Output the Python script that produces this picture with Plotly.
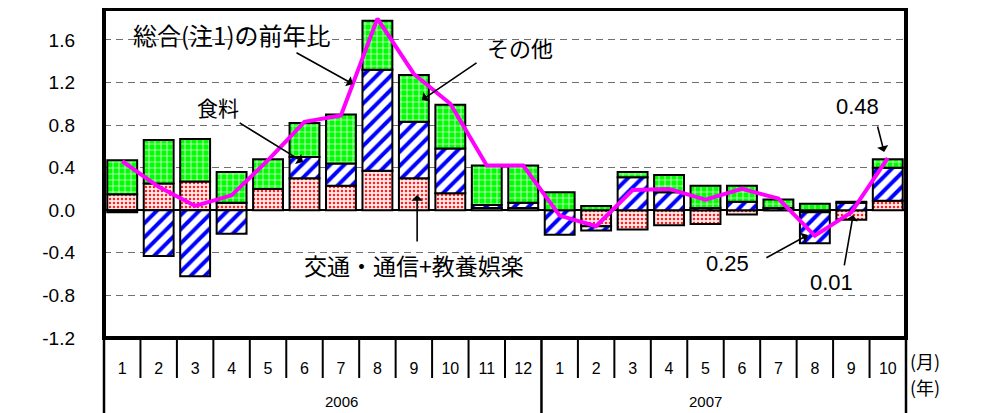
import plotly.graph_objects as go

months = ["1", "2", "3", "4", "5", "6", "7", "8", "9", "10", "11", "12",
          "1", "2", "3", "4", "5", "6", "7", "8", "9", "10"]
years = ["2006", "2007"]
year_counts = [12, 10]

# 交通・通信+教養娯楽
transport = [0.15, 0.25, 0.27, 0.07, 0.20, 0.30, 0.23, 0.37, 0.30, 0.16, 0.02, 0.02,
             0.00, -0.15, -0.18, -0.14, -0.13, -0.04, 0.00, -0.02, -0.09, 0.09]
# 食料
food = [-0.02, -0.43, -0.62, -0.22, 0.00, 0.20, 0.21, 0.95, 0.53, 0.42, 0.03, 0.05,
        -0.23, -0.04, 0.31, 0.17, 0.02, 0.08, 0.02, -0.29, 0.07, 0.31]
# その他
other = [0.32, 0.41, 0.40, 0.29, 0.28, 0.32, 0.46, 0.46, 0.44, 0.41, 0.37, 0.35,
         0.17, 0.04, 0.05, 0.16, 0.21, 0.15, 0.08, 0.06, 0.01, 0.08]
# 総合 前年比
total = [0.46, 0.22, 0.04, 0.14, 0.47, 0.83, 0.89, 1.80, 1.28, 1.00, 0.42, 0.42,
         -0.05, -0.15, 0.19, 0.20, 0.10, 0.20, 0.11, -0.24, -0.02, 0.49]

ytick_vals = [-1.2, -0.8, -0.4, 0.0, 0.4, 0.8, 1.2, 1.6]
ytick_text = ["-1.2", "-0.8", "-0.4", "0.0", "0.4", "0.8", "1.2", "1.6"]

NUM = "Liberation Sans, Arial, sans-serif"
JP = "Noto Sans CJK JP, sans-serif"

x = list(range(len(months)))
fig = go.Figure()
fig.add_trace(go.Bar(x=x, y=transport, name="交通・通信+教養娯楽",
                     marker=dict(color="white", line=dict(color="black", width=2),
                                 pattern=dict(shape=".", fgcolor="#ff2020", bgcolor="#ffeaea",
                                              size=4, solidity=0.3, fillmode="replace"))))
fig.add_trace(go.Bar(x=x, y=food, name="食料",
                     marker=dict(color="white", line=dict(color="black", width=2),
                                 pattern=dict(shape="/", fgcolor="#0000ff", bgcolor="white",
                                              size=10, solidity=0.4, fillmode="replace"))))
fig.add_trace(go.Bar(x=x, y=other, name="その他",
                     marker=dict(color="#00ff00", line=dict(color="black", width=2),
                                 pattern=dict(shape="+", fgcolor="white", bgcolor="#00ff00",
                                              size=6, solidity=0.22, fillmode="replace"))))
fig.add_trace(go.Scatter(x=x, y=total, mode="lines", name="総合",
                         line=dict(color="#ff00ff", width=4)))

n = len(months)
shapes = []
# frame
shapes.append(dict(type="rect", xref="paper", yref="paper", x0=0, x1=1, y0=0, y1=1,
                   line=dict(color="black", width=4), layer="above"))
# category table dividers
bounds = [0]
for c in year_counts:
    bounds.append(bounds[-1] + c)
for i in range(n + 1):
    full = i in bounds
    shapes.append(dict(type="line", xref="paper", yref="paper",
                       x0=i / n, x1=i / n, y0=-0.006, y1=(-0.24 if full else -0.1216),
                       line=dict(color="black", width=2.5 if full else 2)))

annotations = []
# year labels
for k, yr in enumerate(years):
    center = (bounds[k] + bounds[k + 1]) / 2 / n
    annotations.append(dict(xref="paper", yref="paper", x=center, y=-0.194, text=yr,
                            yanchor="middle", showarrow=False,
                            font=dict(family=NUM, size=15, color="black")))
annotations.append(dict(xref="paper", yref="paper", x=1.002, y=-0.070, text="(月)",
                        xanchor="left", yanchor="middle", showarrow=False,
                        font=dict(family=JP, size=18, color="black")))
annotations.append(dict(xref="paper", yref="paper", x=1.002, y=-0.149, text="(年)",
                        xanchor="left", yanchor="middle", showarrow=False,
                        font=dict(family=JP, size=18, color="black")))

texts = [
    ("総合(注1)の前年比", 3.01, 1.647, JP, 24),
    ("食料", 2.63, 0.97, JP, 21),
    ("その他", 10.91, 1.534, JP, 22),
    ("交通・通信+教養娯楽", 8.0, -0.515, JP, 23),
    ("0.25", 16.59, -0.496, NUM, 22),
    ("0.01", 19.45, -0.674, NUM, 22),
    ("0.48", 20.16, 0.97, NUM, 22),
]
for t, tx, ty, fam, sz in texts:
    annotations.append(dict(x=tx, y=ty, xref="x", yref="y", text=t, showarrow=False,
                            font=dict(family=fam, size=sz, color="black")))

arrows = [
    (4.74, 1.487, 6.33, 1.185),
    (3.18, 0.829, 4.96, 0.453),
    (9.76, 1.393, 8.22, 1.035),
    (8.09, -0.307, 8.09, 0.144),
    (17.63, -0.454, 18.81, -0.232),
    (19.80, -0.533, 20.05, -0.044),
    (20.71, 0.80, 20.90, 0.547),
]
for axx, ayy, hx, hy in arrows:
    annotations.append(dict(x=hx, y=hy, ax=axx, ay=ayy, xref="x", yref="y",
                            axref="x", ayref="y", text="", showarrow=True,
                            arrowhead=1, arrowsize=1.2, arrowwidth=1.6, arrowcolor="black"))

# page has an 8px body margin: figure coordinates are offset by 8px
fig.update_layout(
    width=984, height=413,
    margin=dict(l=96, r=86, t=1, b=83),
    paper_bgcolor="white", plot_bgcolor="white",
    barmode="relative", bargap=0.18,
    showlegend=False,
    shapes=shapes, annotations=annotations,
    xaxis=dict(range=[-0.5, n - 0.5], tickvals=x, ticktext=months, showgrid=False,
               zeroline=False, showline=False, ticks="", ticklabelstandoff=19,
               tickfont=dict(family=NUM, size=16, color="black"), fixedrange=True),
    yaxis=dict(range=[-1.2, 1.89], tickvals=ytick_vals, ticktext=ytick_text,
               showgrid=True, gridcolor="#707070", griddash="7px,5px", gridwidth=1,
               zeroline=True, zerolinecolor="black", zerolinewidth=2,
               showline=False, ticks="", ticklabelstandoff=28,
               tickfont=dict(family=NUM, size=19, color="black"), fixedrange=True),
)

fig.write_html("out.html")
